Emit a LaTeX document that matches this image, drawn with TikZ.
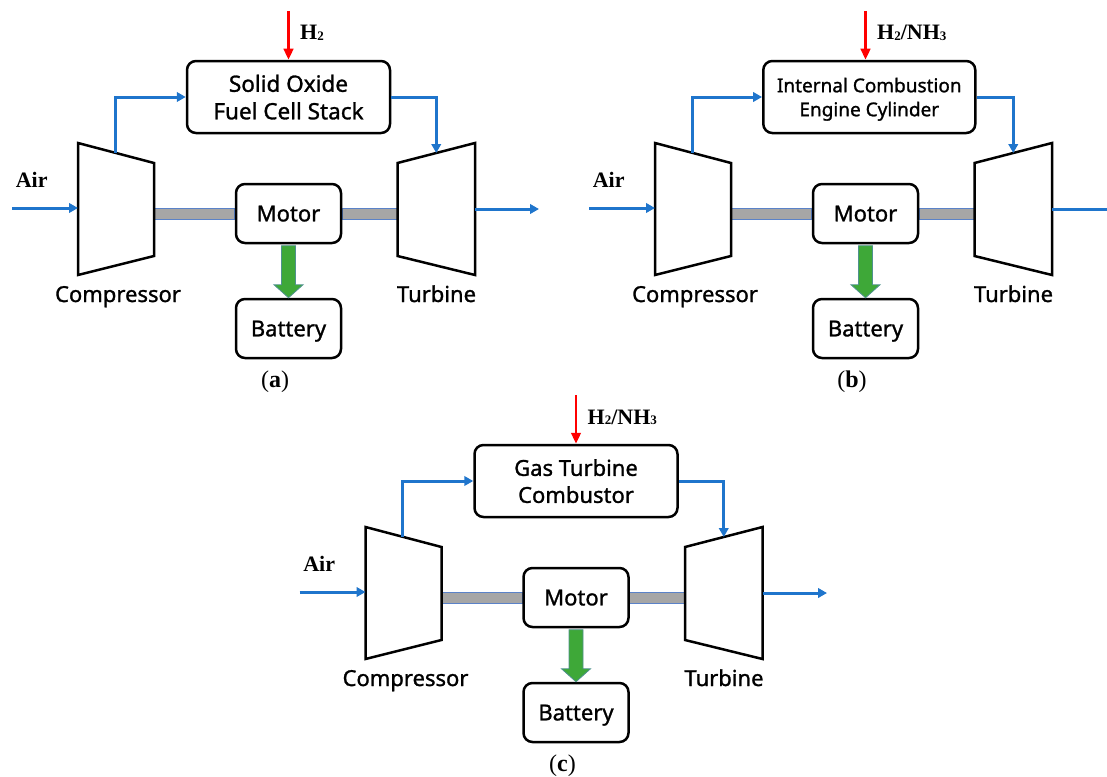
\documentclass[tikz,border=0pt]{standalone}
\usepackage{fontspec}
\newfontfamily\sansf[FakeBold=1.2]{Noto Sans}
\newfontfamily\serf{Liberation Serif}
\usetikzlibrary{arrows.meta,calc}
\pgfdeclarelayer{bg}
\pgfsetlayers{bg,main}
\definecolor{flowblue}{RGB}{31,117,204}
\definecolor{fuelred}{RGB}{255,0,0}
\definecolor{shaftgray}{RGB}{166,166,166}
\definecolor{shaftedge}{RGB}{90,130,200}
\definecolor{pgreen}{RGB}{62,168,56}
\tikzset{
  unit/.style={draw=black, line width=2.5pt, rounded corners=9pt, fill=white, inner sep=0pt,
    align=center, text depth=0pt, font=\sansf\fontsize{22}{27}\selectfont},
  flow/.style={draw=flowblue, line width=3pt, -{Triangle[length=9pt,width=9.5pt]}},
  flowend/.style={draw=flowblue, line width=3pt},
  fuel/.style={draw=fuelred, line width=2.9pt, -{Triangle[length=11pt,width=9.5pt]}},
  machine/.style={draw=black, line width=2.5pt, fill=white, line join=miter},
  shaft/.style={fill=shaftgray, draw=shaftedge, line width=0.8pt},
  power/.style={fill=pgreen, draw=shaftedge!60!pgreen, line width=0.8pt},
  lbl/.style={font=\sansf\fontsize{22}{26}\selectfont, inner sep=0pt},
  boldlbl/.style={font=\serf\bfseries\fontsize{22}{26}\selectfont, inner sep=0pt},
  panellbl/.style={font=\serf\fontsize{24}{28}\selectfont, inner sep=0pt},
}
\newcommand\subsc[1]{\raisebox{-0.5pt}{\fontsize{13}{13}\selectfont #1}}
% #1 prefix, #2 shift x, #3 shift y, #4 box centre x, #5 box width,
% #6 box font, #7 box text, #8 fuel label
\newcommand\gtpanel[8]{%
\begin{scope}[shift={(#2,#3)}]
  \coordinate (#1cTL) at (78,143);   \coordinate (#1cTR) at (154,163);
  \coordinate (#1cBR) at (154,256);  \coordinate (#1cBL) at (78,275);
  \coordinate (#1tTL) at (397.5,163); \coordinate (#1tTR) at (475,143);
  \coordinate (#1tBR) at (475,275);  \coordinate (#1tBL) at (397.5,256);
  \coordinate (#1cW) at (78,208);
  \coordinate (#1tE) at (475,209);
  \coordinate (#1sL) at (154,213.5);
  \coordinate (#1sR) at (397.5,213.5);
  \coordinate (#1air) at (12,208);
  \coordinate (#1fuel) at (288.5,11);
  \coordinate (#1cup) at ($(#1cTL)!0.49!(#1cTR)$);
  \coordinate (#1tdn) at ($(#1tTL)!0.5!(#1tTR)$);
  % machines
  \draw[machine] (#1cTL) -- (#1cTR) -- (#1cBR) -- (#1cBL) -- cycle;
  \draw[machine] (#1tTL) -- (#1tTR) -- (#1tBR) -- (#1tBL) -- cycle;
  % units
  \node[unit, minimum width=#5pt, minimum height=72pt, font=\sansf#6] (#1box) at (#4,97) {#7};
  \node[unit, minimum width=105pt, minimum height=59pt] (#1m) at (288.5,213.5) {Motor};
  \node[unit, minimum width=105pt, minimum height=59pt] (#1bat) at (288.5,328.5) {Battery};
  % shafts and power arrow
  \begin{pgfonlayer}{bg}
    \path[shaft] ($(#1sL)+(0,-5.5)$) rectangle ($(#1m.west)+(0,5.5)$);
    \path[shaft] ($(#1m.east)+(0,-5.5)$) rectangle ($(#1sR)+(0,5.5)$);
  \end{pgfonlayer}
  \path[power] ($(#1m.south)+(-7,1.4)$) -- ($(#1bat.north)+(-7,-13)$)
     -- ($(#1bat.north)+(-14.5,-13)$) -- (#1bat.north)
     -- ($(#1bat.north)+(14.5,-13)$) -- ($(#1bat.north)+(7,-13)$)
     -- ($(#1m.south)+(7,1.4)$) -- cycle;
  % flows
  \draw[flow] (#1air) -- (#1cW);
  \draw[flow] (#1cup) |- (#1box.west);
  \draw[flow] (#1box.east) -| (#1tdn);
  \draw[fuel] (#1fuel) -- (#1fuel |- #1box.north);
  % labels
  \node[boldlbl, anchor=base] (#1airl) at (31.7,187) {Air};
  \node[boldlbl, anchor=base west] (#1fl) at (300,40) {#8};
  \node[lbl, anchor=base] (#1cl) at (118,302) {Compressor};
  \node[lbl, anchor=base] (#1tl) at (436.5,302) {Turbine};
  \node[panellbl, anchor=base] (#1pl) at (275,387) {(\textbf{#1})};
\end{scope}}

\begin{document}
\begin{tikzpicture}[x=1pt,y=-1pt]
\useasboundingbox (0,0) rectangle (1107,776);
\gtpanel{a}{0}{0}{288.5}{203}{\fontsize{22.5}{27.5}\selectfont}{Solid Oxide\\Fuel Cell Stack}{H\subsc{2}}
\gtpanel{b}{577}{0}{292.3}{212}{\fontsize{19}{24}\selectfont}{Internal Combustion\\Engine Cylinder}{H\subsc{2}/NH\subsc{3}}
\gtpanel{c}{287.5}{384}{288.5}{203}{\fontsize{22}{27}\selectfont}{Gas Turbine\\Combustor}{H\subsc{2}/NH\subsc{3}}
\coordinate (aout) at (539,209);
\coordinate (bout) at (1107,209);
\coordinate (cout) at (827,593);
\draw[flow] (atE) -- (aout);
\draw[flowend] (btE) -- (bout);
\draw[flow] (ctE) -- (cout);
\end{tikzpicture}
\end{document}
